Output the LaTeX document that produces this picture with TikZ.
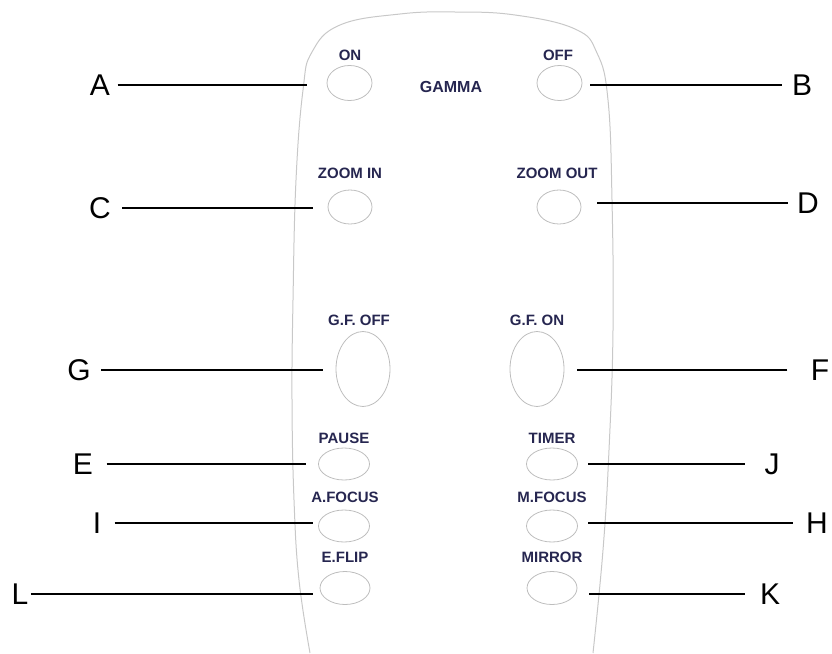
\documentclass[tikz,border=0pt]{standalone}
\usepackage{fontspec}
\setmainfont{Liberation Sans}
\usetikzlibrary{shapes.geometric, positioning}
\definecolor{cnavy}{HTML}{262650}
\definecolor{cshell}{HTML}{C8C8C8}
\definecolor{ckey}{HTML}{BDBDBD}
\tikzset{
  every picture/.style={line width=1pt},
  key/.style 2 args={ellipse, draw=ckey, line width=0.8pt, inner sep=0pt, minimum width=#1pt, minimum height=#2pt},
  keyname/.style={font=\fontsize{15}{18}\selectfont\bfseries, text=cnavy, inner sep=0pt},
  letter/.style={font=\fontsize{30}{36}\selectfont, inner sep=0pt},
  lead/.style={draw=black, line width=1.8pt},
  gap/.style 2 args={shorten <=#1pt, shorten >=#2pt},
  shell/.style={draw=cshell, line width=1pt},
}

\begin{document}
\begin{tikzpicture}[x=1pt, y=-1pt]
  \useasboundingbox (0,0) rectangle (832,653);
  % remote body
  \draw[shell] plot[smooth, tension=0.7] coordinates {(310,653) (299,580) (294,500) (292,400) (293,300) (296,180) (303,90) (312,52) (340,25) (400,14) (455,12) (515,15) (575,29) (597,53) (608,100) (612,200) (613,330) (609,450) (603,550) (593,653)};
  % keys, left column
  \node[key={45}{35}] (bON) at (349.5,83) {};
  \node[key={44}{34}] (bZIN) at (350,207) {};
  \node[key={54}{75}] (bGFOFF) at (363,369) {};
  \node[key={51}{32}] (bPAUSE) at (344,464) {};
  \node[key={51}{32}] (bAF) at (344,526) {};
  \node[key={50}{33}] (bEF) at (345,588) {};
  % keys, right column
  \node[key={45}{35}] (bOFF) at (559.5,83) {};
  \node[key={44}{34}] (bZOUT) at (559,207) {};
  \node[key={54}{75}] (bGFON) at (537,369) {};
  \node[key={51}{32}] (bTIMER) at (552,464) {};
  \node[key={51}{32}] (bMF) at (552,526) {};
  \node[key={50}{33}] (bMIR) at (552,588) {};
  % key names
  \node[keyname] (tON) at (350,55) {ON};
  \node[keyname] (tOFF) at (558,55) {OFF};
  \node[keyname, font=\fontsize{16}{19}\selectfont\bfseries] (tGAMMA) at (451,87) {GAMMA};
  \node[keyname] (tZIN) at (350,173) {ZOOM IN};
  \node[keyname] (tZOUT) at (557,173) {ZOOM OUT};
  \node[keyname] (tGFOFF) at (359,320) {G.F. OFF};
  \node[keyname] (tGFON) at (537,320) {G.F. ON};
  \node[keyname] (tPAUSE) at (344,438) {PAUSE};
  \node[keyname] (tTIMER) at (552,438) {TIMER};
  \node[keyname] (tAF) at (345,497) {A.FOCUS};
  \node[keyname] (tMF) at (552,497) {M.FOCUS};
  \node[keyname] (tEF) at (345,557) {E.FLIP};
  \node[keyname] (tMIR) at (552,557) {MIRROR};
  % letters
  \node[letter] (lA) at (100,85) {A};
  \node[letter] (lC) at (100,208) {C};
  \node[letter] (lG) at (79,370) {G};
  \node[letter] (lE) at (83,464) {E};
  \node[letter] (lI) at (97,523) {I};
  \node[letter] (lL) at (20,594) {L};
  \node[letter] (lB) at (802,85) {B};
  \node[letter] (lD) at (808,203) {D};
  \node[letter] (lF) at (820,370) {F};
  \node[letter] (lJ) at (772,464) {J};
  \node[letter] (lH) at (817,523) {H};
  \node[letter] (lK) at (770,594) {K};
  % leaders
  \draw[lead, gap={7}{20}] (lA.east) -- (lA.east -| bON.west);
  \draw[lead, gap={11}{15}] (lC.east) -- (lC.east -| bZIN.west);
  \draw[lead, gap={10}{13}] (lG.east) -- (lG.east -| bGFOFF.west);
  \draw[lead, gap={13}{12.5}] (lE.east) -- (lE.east -| bPAUSE.west);
  \draw[lead, gap={13}{5.5}] (lI.east) -- (lI.east -| bAF.west);
  \draw[lead, gap={2}{7}] (lL.east) -- (lL.east -| bEF.west);
  \draw[lead, gap={10}{8}] (lB.west) -- (lB.west -| bOFF.east);
  \draw[lead, gap={9}{16}] (lD.west) -- (lD.west -| bZOUT.east);
  \draw[lead, gap={23}{13}] (lF.west) -- (lF.west -| bGFON.east);
  \draw[lead, gap={19.5}{10.5}] (lJ.west) -- (lJ.west -| bTIMER.east);
  \draw[lead, gap={13}{10.5}] (lH.west) -- (lH.west -| bMF.east);
  \draw[lead, gap={15}{12}] (lK.west) -- (lK.west -| bMIR.east);
\end{tikzpicture}
\end{document}
